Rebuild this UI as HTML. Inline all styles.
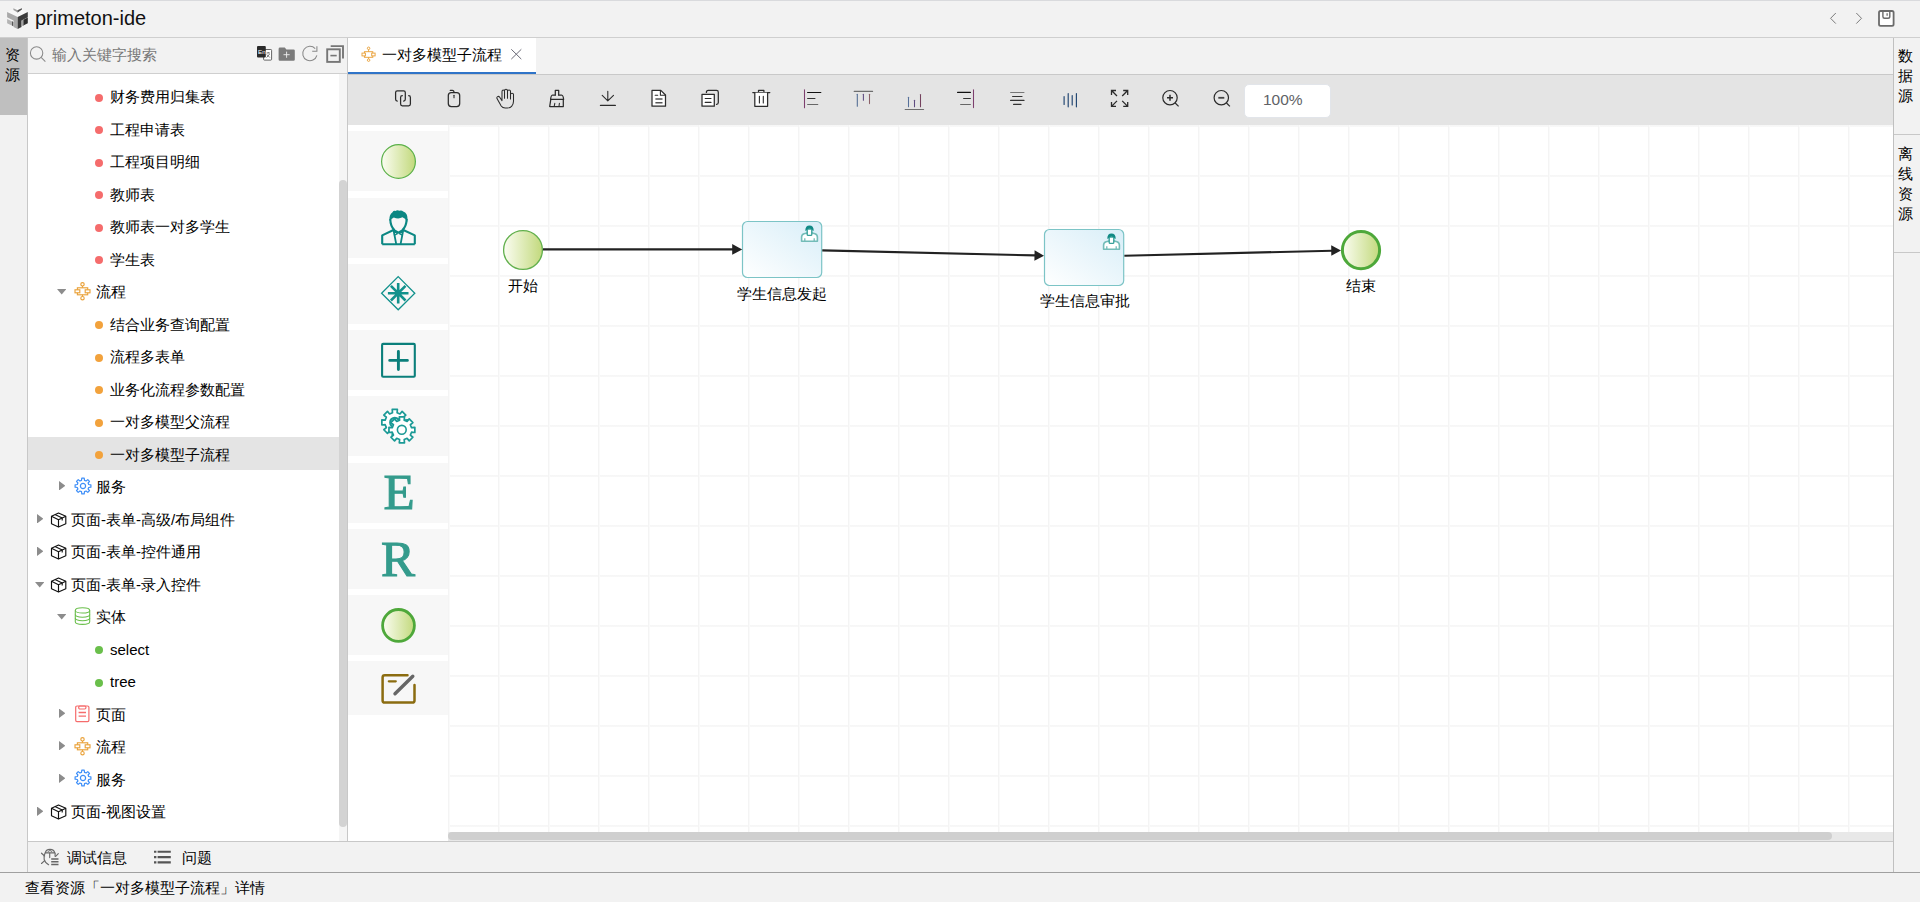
<!DOCTYPE html>
<html><head><meta charset="utf-8"><title>primeton-ide</title>
<style>
*{box-sizing:border-box;margin:0;padding:0}
html,body{width:1920px;height:902px;overflow:hidden;background:#f2f2f2;font-family:"Liberation Sans",sans-serif;color:#000}
.a{position:absolute}
.t{position:absolute;font-size:15px;line-height:20px;white-space:nowrap}
.row{position:absolute;left:28px;width:311px;height:32.5px}
.dot{position:absolute;width:8px;height:8px;border-radius:50%}
.tri-r{position:absolute;width:6.4px;height:9.4px;background:#8c8c8c;clip-path:polygon(0 0,100% 50%,0 100%)}
.tri-d{position:absolute;width:9.4px;height:5.6px;background:#8c8c8c;clip-path:polygon(0 0,100% 0,50% 100%)}
.pal{position:absolute;left:348px;width:100px;background:#f7f7f7}
svg{position:absolute;overflow:visible}
</style></head><body>

<!-- ===== HEADER ===== -->
<div class="a" style="left:0;top:0;width:1920px;height:1px;background:#d9dadd"></div>
<div class="a" style="left:0;top:37px;width:1920px;height:1px;background:#cfcfcf"></div>
<div id="title" class="t" style="left:35px;top:7px;font-size:20px;line-height:22px;color:#111">primeton-ide</div>

<!-- ===== LEFT ACTIVITY BAR ===== -->
<div class="a" style="left:0;top:38px;width:27px;height:77px;background:#bfbfbf"></div>
<div class="a" style="left:27px;top:38px;width:1px;height:834px;background:#c8c8c8"></div>
<div class="t" style="left:5px;top:45px;width:16px;font-size:15px;line-height:20px;white-space:normal">资源</div>

<!-- ===== SIDEBAR ===== -->
<div class="a" style="left:28px;top:38px;width:319px;height:35px;background:#f2f2f2"></div>
<div class="a" style="left:28px;top:73px;width:319px;height:1px;background:#cfcfcf"></div>
<div class="a" style="left:28px;top:74px;width:319px;height:767px;background:#fff"></div>
<div class="a" style="left:347px;top:38px;width:1px;height:803px;background:#c8c8c8"></div>
<div class="t" style="left:52px;top:45px;color:#777">输入关键字搜索</div>

<div class="dot" style="left:95px;top:93.5px;background:#f56c6c"></div>
<div class="t" style="left:110px;top:87.0px">财务费用归集表</div>
<div class="dot" style="left:95px;top:126.0px;background:#f56c6c"></div>
<div class="t" style="left:110px;top:119.5px">工程申请表</div>
<div class="dot" style="left:95px;top:158.5px;background:#f56c6c"></div>
<div class="t" style="left:110px;top:152.0px">工程项目明细</div>
<div class="dot" style="left:95px;top:191.0px;background:#f56c6c"></div>
<div class="t" style="left:110px;top:184.5px">教师表</div>
<div class="dot" style="left:95px;top:223.5px;background:#f56c6c"></div>
<div class="t" style="left:110px;top:217.0px">教师表一对多学生</div>
<div class="dot" style="left:95px;top:256.0px;background:#f56c6c"></div>
<div class="t" style="left:110px;top:249.5px">学生表</div>
<div class="tri-d" style="left:57px;top:289.0px"></div>
<svg style="left:74px;top:274.5px" width="18" height="27" viewBox="0 0 18 27"><g fill="none" stroke="#eaa23a" stroke-width="1.15"><circle cx="8.5" cy="9.3" r="1.7"/><path d="M8.5 11v1.8M8.5 19.8v1.7"/><rect x="3.4" y="12.8" width="10.3" height="7"/><rect x="1" y="14.8" width="4.8" height="3" fill="#fff"/><rect x="11.2" y="14.8" width="4.8" height="3" fill="#fff"/><circle cx="8.5" cy="23.2" r="1.7"/></g></svg>
<div class="t" style="left:96px;top:282.0px">流程</div>
<div class="dot" style="left:95px;top:321.0px;background:#f2a23c"></div>
<div class="t" style="left:110px;top:314.5px">结合业务查询配置</div>
<div class="dot" style="left:95px;top:353.5px;background:#f2a23c"></div>
<div class="t" style="left:110px;top:347.0px">流程多表单</div>
<div class="dot" style="left:95px;top:386.0px;background:#f2a23c"></div>
<div class="t" style="left:110px;top:379.5px">业务化流程参数配置</div>
<div class="dot" style="left:95px;top:418.5px;background:#f2a23c"></div>
<div class="t" style="left:110px;top:412.0px">一对多模型父流程</div>
<div class="a" style="left:28px;top:437.0px;width:311px;height:32.5px;background:#e4e4e4"></div>
<div class="dot" style="left:95px;top:451.0px;background:#f2a23c"></div>
<div class="t" style="left:110px;top:444.5px">一对多模型子流程</div>
<div class="tri-r" style="left:59px;top:481.0px"></div>
<svg style="left:74px;top:476.5px" width="18" height="18" viewBox="-9 -9 18 18"><path fill="none" stroke="#3d8ef8" stroke-width="1.2" stroke-linejoin="round" d="M-1.5,-5.6 L-1.2,-7.9 L1.2,-7.9 L1.5,-5.6 L3.1,-5 L4.8,-6.4 L6.5,-4.7 L5.1,-3 L5.7,-1.5 L7.9,-1.2 L7.9,1.2 L5.7,1.5 L5.1,3 L6.5,4.7 L4.8,6.4 L3.1,5 L1.5,5.6 L1.2,7.9 L-1.2,7.9 L-1.5,5.6 L-3.1,5 L-4.8,6.4 L-6.5,4.7 L-5.1,3 L-5.7,1.5 L-7.9,1.2 L-7.9,-1.2 L-5.7,-1.5 L-5.1,-3 L-6.5,-4.7 L-4.8,-6.4 L-3.1,-5 Z"/><circle r="2.6" fill="none" stroke="#3d8ef8" stroke-width="1.2"/></svg>
<div class="t" style="left:96px;top:477.0px">服务</div>
<div class="tri-r" style="left:37px;top:514.0px"></div>
<svg style="left:50px;top:511.5px" width="17" height="17" viewBox="0 0 17 17"><g fill="none" stroke="#111" stroke-width="1.15" stroke-linejoin="round"><path d="M1.5 4.3L8.5 1L15.8 4.3L15.8 11.8L8.5 15.1L1.5 11.8Z"/><path d="M1.5 4.3L8.5 7.7L15.8 4.3M8.5 7.7V15.1"/><path d="M5 2.6L12.2 6V8.4"/></g></svg>
<div class="t" style="left:71px;top:509.5px">页面-表单-高级/布局组件</div>
<div class="tri-r" style="left:37px;top:546.5px"></div>
<svg style="left:50px;top:544.0px" width="17" height="17" viewBox="0 0 17 17"><g fill="none" stroke="#111" stroke-width="1.15" stroke-linejoin="round"><path d="M1.5 4.3L8.5 1L15.8 4.3L15.8 11.8L8.5 15.1L1.5 11.8Z"/><path d="M1.5 4.3L8.5 7.7L15.8 4.3M8.5 7.7V15.1"/><path d="M5 2.6L12.2 6V8.4"/></g></svg>
<div class="t" style="left:71px;top:542.0px">页面-表单-控件通用</div>
<div class="tri-d" style="left:35px;top:582.0px"></div>
<svg style="left:50px;top:576.5px" width="17" height="17" viewBox="0 0 17 17"><g fill="none" stroke="#111" stroke-width="1.15" stroke-linejoin="round"><path d="M1.5 4.3L8.5 1L15.8 4.3L15.8 11.8L8.5 15.1L1.5 11.8Z"/><path d="M1.5 4.3L8.5 7.7L15.8 4.3M8.5 7.7V15.1"/><path d="M5 2.6L12.2 6V8.4"/></g></svg>
<div class="t" style="left:71px;top:574.5px">页面-表单-录入控件</div>
<div class="tri-d" style="left:57px;top:614.0px"></div>
<svg style="left:74px;top:606.5px" width="17" height="19" viewBox="0 0 17 19"><g fill="none" stroke="#6abf4b" stroke-width="1.1"><ellipse cx="8.5" cy="3.4" rx="7.2" ry="2.6"/><path d="M1.3 3.4V14.8C1.3 16.3 4.5 17.4 8.5 17.4S15.7 16.3 15.7 14.8V3.4"/><path d="M1.3 7.6C1.3 9.1 4.5 10.2 8.5 10.2S15.7 9.1 15.7 7.6"/><path d="M1.3 11.1C1.3 12.6 4.5 13.7 8.5 13.7S15.7 12.6 15.7 11.1"/></g></svg>
<div class="t" style="left:96px;top:607.0px">实体</div>
<div class="dot" style="left:95px;top:646.0px;background:#6abf4b"></div>
<div class="t" style="left:110px;top:639.5px">select</div>
<div class="dot" style="left:95px;top:678.5px;background:#6abf4b"></div>
<div class="t" style="left:110px;top:672.0px">tree</div>
<div class="tri-r" style="left:59px;top:708.5px"></div>
<svg style="left:74px;top:704.5px" width="17" height="19" viewBox="0 0 17 19"><g fill="none" stroke="#f56c6c" stroke-width="1.2"><rect x="1.7" y="1" width="13.2" height="15.6" rx="1.3"/><rect x="4.7" y="1" width="7.2" height="3" rx="1.2"/><path d="M4.6 7.5h7.4M4.6 11.1h7.4" stroke-width="1.3"/></g></svg>
<div class="t" style="left:96px;top:704.5px">页面</div>
<div class="tri-r" style="left:59px;top:741.0px"></div>
<svg style="left:74px;top:729.5px" width="18" height="27" viewBox="0 0 18 27"><g fill="none" stroke="#eaa23a" stroke-width="1.15"><circle cx="8.5" cy="9.3" r="1.7"/><path d="M8.5 11v1.8M8.5 19.8v1.7"/><rect x="3.4" y="12.8" width="10.3" height="7"/><rect x="1" y="14.8" width="4.8" height="3" fill="#fff"/><rect x="11.2" y="14.8" width="4.8" height="3" fill="#fff"/><circle cx="8.5" cy="23.2" r="1.7"/></g></svg>
<div class="t" style="left:96px;top:737.0px">流程</div>
<div class="tri-r" style="left:59px;top:773.5px"></div>
<svg style="left:74px;top:769.0px" width="18" height="18" viewBox="-9 -9 18 18"><path fill="none" stroke="#3d8ef8" stroke-width="1.2" stroke-linejoin="round" d="M-1.5,-5.6 L-1.2,-7.9 L1.2,-7.9 L1.5,-5.6 L3.1,-5 L4.8,-6.4 L6.5,-4.7 L5.1,-3 L5.7,-1.5 L7.9,-1.2 L7.9,1.2 L5.7,1.5 L5.1,3 L6.5,4.7 L4.8,6.4 L3.1,5 L1.5,5.6 L1.2,7.9 L-1.2,7.9 L-1.5,5.6 L-3.1,5 L-4.8,6.4 L-6.5,4.7 L-5.1,3 L-5.7,1.5 L-7.9,1.2 L-7.9,-1.2 L-5.7,-1.5 L-5.1,-3 L-6.5,-4.7 L-4.8,-6.4 L-3.1,-5 Z"/><circle r="2.6" fill="none" stroke="#3d8ef8" stroke-width="1.2"/></svg>
<div class="t" style="left:96px;top:769.5px">服务</div>
<div class="tri-r" style="left:37px;top:806.5px"></div>
<svg style="left:50px;top:804.0px" width="17" height="17" viewBox="0 0 17 17"><g fill="none" stroke="#111" stroke-width="1.15" stroke-linejoin="round"><path d="M1.5 4.3L8.5 1L15.8 4.3L15.8 11.8L8.5 15.1L1.5 11.8Z"/><path d="M1.5 4.3L8.5 7.7L15.8 4.3M8.5 7.7V15.1"/><path d="M5 2.6L12.2 6V8.4"/></g></svg>
<div class="t" style="left:71px;top:802.0px">页面-视图设置</div>

<div class="a" style="left:339px;top:74px;width:8px;height:767px;background:#f5f5f5"></div>
<div class="a" style="left:339px;top:180px;width:8px;height:647px;border-radius:4px;background:#d3d3d3"></div>

<!-- ===== EDITOR AREA ===== -->
<div class="a" style="left:348px;top:38px;width:188px;height:36px;background:#fff"></div>
<div class="a" style="left:348px;top:72px;width:188px;height:2px;background:#2f74c8"></div>
<div class="a" style="left:348px;top:74px;width:1545px;height:1px;background:#c9c9c9"></div>
<div class="a" style="left:348px;top:75px;width:1545px;height:50px;background:#e4e4e4"></div>
<div class="t" style="left:382px;top:45px">一对多模型子流程</div>
<div class="a" style="left:1243.5px;top:83.5px;width:87px;height:34px;background:#fff;border:1px solid #e2e5ea;border-radius:5px"></div>
<div class="t" style="left:1263px;top:90px;font-size:15.5px;color:#606266">100%</div>

<!-- canvas -->
<div id="canvas" class="a" style="left:348px;top:125px;width:1545px;height:716px;background:#fff"></div>
<div class="a" style="left:448px;top:125px;width:1445px;height:707px;background-color:#fff;background-image:linear-gradient(to right,#f4f4f4 0,#f4f4f4 1px,#fafafa 1px,#fafafa 2px,transparent 2px),linear-gradient(to bottom,#f6f6f6 0,#f8f8f8 2px,transparent 2px);background-size:50px 50px"></div>
<div class="a" style="left:348px;top:125px;width:100px;height:590px;background:#fff;overflow:hidden">
<div class="a" style="left:0;top:6.25px;width:100px;height:60px;background:#f7f7f7"></div>
<div class="a" style="left:0;top:72.5px;width:100px;height:60px;background:#f7f7f7"></div>
<div class="a" style="left:0;top:138.75px;width:100px;height:60px;background:#f7f7f7"></div>
<div class="a" style="left:0;top:205.0px;width:100px;height:60px;background:#f7f7f7"></div>
<div class="a" style="left:0;top:271.25px;width:100px;height:60px;background:#f7f7f7"></div>
<div class="a" style="left:0;top:337.5px;width:100px;height:60px;background:#f7f7f7"></div>
<div class="a" style="left:0;top:403.75px;width:100px;height:60px;background:#f7f7f7"></div>
<div class="a" style="left:0;top:470.0px;width:100px;height:60px;background:#f7f7f7"></div>
<div class="a" style="left:0;top:536.25px;width:100px;height:60px;background:#f7f7f7"></div>
</div>
<div class="a" style="left:349px;top:463.5px;width:100px;text-align:center;font-family:'Liberation Serif',serif;font-weight:normal;-webkit-text-stroke:1.1px #349b8c;font-size:51px;line-height:56px;color:#349b8c">E</div>
<div class="a" style="left:348px;top:530.5px;width:100px;text-align:center;font-family:'Liberation Serif',serif;font-weight:normal;-webkit-text-stroke:1.1px #349b8c;font-size:51px;line-height:56px;color:#349b8c">R</div>
<svg style="left:0;top:0;pointer-events:none" width="1920" height="902" viewBox="0 0 1920 902">
<defs>
<linearGradient id="pEv" x1="0" y1="0" x2="1" y2="0"><stop offset="0" stop-color="#fbfdf2"/><stop offset="1" stop-color="#c2d97c"/></linearGradient>
<linearGradient id="pTask" x1="0" y1="1" x2="1" y2="0"><stop offset="0" stop-color="#ffffff"/><stop offset="1" stop-color="#d8eef8"/></linearGradient>
</defs>
<circle cx="398.5" cy="161.5" r="16.9" fill="url(#pEv)" stroke="#5cb14a" stroke-width="1.2"/>
<g fill="none" stroke="#0b8783" stroke-width="2.1" stroke-linejoin="round">
<path d="M382.2,244.2 V235.4 L393.5,230 M403.3,230 L414.8,235.4 V244.2"/>
<path d="M382.2,244.2 H414.8"/>
<path d="M393.5,229.8 L396.2,244 M403.3,229.8 L400.6,244" stroke-width="1.8"/>
<path d="M390.3,219 Q390.3,226 394.5,230.3 L398.4,232.6 L402.3,230.3 Q406.6,226 406.6,219"/>
<path d="M394.4,231 L397.4,233.8 L394.5,235.2 Z M402.4,231 L399.4,233.8 L402.3,235.2 Z" stroke-width="1.2"/>
</g>
<path d="M389.5,221 Q388.8,214.6 392.5,212.2 Q393.5,210.4 395.5,210.9 Q397.4,209.6 399.4,210.8 Q401.6,209.9 403.2,211.6 Q407.7,213 407.6,219.5 L407.2,222 Q405.8,218.6 402.5,217.3 Q398.4,219.5 393.8,217.4 Q391.4,218.4 389.5,221 Z" fill="#0b8783"/>
<g fill="none" stroke="#11918c">
<path d="M398.2,276.6 L414.8,293.2 L398.2,309.8 L381.6,293.2 Z" stroke-width="1.3"/>
<path d="M398.2,282.9 V303.5 M387.9,293.2 H408.5 M390.9,285.9 L405.5,300.5 M405.5,285.9 L390.9,300.5" stroke-width="2.6"/>
</g>
<rect x="382.1" y="343.9" width="32.7" height="32.9" rx="1" fill="none" stroke="#0b7f7b" stroke-width="2.1"/>
<path d="M389.7,360.4 H407.4 M398.4,351.5 V369.5" stroke="#0b7f7b" stroke-width="2.9" stroke-linecap="round"/>
<path d="M392.49,412.77 L392.22,409.45 L397.38,409.45 L397.11,412.77 L399.97,413.96 L402.13,411.42 L405.78,415.07 L403.24,417.23 L404.43,420.09 L407.75,419.82 L407.75,424.98 L404.43,424.71 L403.24,427.57 L405.78,429.73 L402.13,433.38 L399.97,430.84 L397.11,432.03 L397.38,435.35 L392.22,435.35 L392.49,432.03 L389.63,430.84 L387.47,433.38 L383.82,429.73 L386.36,427.57 L385.17,424.71 L381.85,424.98 L381.85,419.82 L385.17,420.09 L386.36,417.23 L383.82,415.07 L387.47,411.42 L389.63,413.96 Z" fill="#fff" stroke="#1b9a96" stroke-width="1.7" stroke-linejoin="round"/>
<circle cx="394.8" cy="422.4" r="4.6" fill="none" stroke="#1b9a96" stroke-width="2.2"/>
<path d="M399.59,420.27 L399.32,416.95 L404.48,416.95 L404.21,420.27 L407.07,421.46 L409.23,418.92 L412.88,422.57 L410.34,424.73 L411.53,427.59 L414.85,427.32 L414.85,432.48 L411.53,432.21 L410.34,435.07 L412.88,437.23 L409.23,440.88 L407.07,438.34 L404.21,439.53 L404.48,442.85 L399.32,442.85 L399.59,439.53 L396.73,438.34 L394.57,440.88 L390.92,437.23 L393.46,435.07 L392.27,432.21 L388.95,432.48 L388.95,427.32 L392.27,427.59 L393.46,424.73 L390.92,422.57 L394.57,418.92 L396.73,421.46 Z" fill="#fff" stroke="#1b9a96" stroke-width="1.7" stroke-linejoin="round"/>
<circle cx="401.8" cy="429.8" r="4.4" fill="none" stroke="#1b9a96" stroke-width="1.6"/>
<circle cx="398.5" cy="625.4" r="15.9" fill="url(#pEv)" stroke="#4ea83a" stroke-width="2.8"/>
<path d="M407.5,675.2 H384.8 Q382.6,675.2 382.6,677.4 V700.4 Q382.6,702.6 384.8,702.6 H412.3 Q414.5,702.6 414.5,700.4 V685" fill="none" stroke="#8b6c10" stroke-width="2.5" stroke-linecap="round"/>
<path d="M388.8,681.3 H395.8" stroke="#8b6c10" stroke-width="2.2" stroke-linecap="round"/>
<path d="M395,693.8 L412.8,676.3" stroke="#666" stroke-width="3.4" stroke-linecap="round"/>
<circle cx="523" cy="250" r="19.4" fill="url(#pEv)" stroke="#62b04d" stroke-width="1.3"/>
<circle cx="1361" cy="250.1" r="18.6" fill="url(#pEv)" stroke="#4da83a" stroke-width="3"/>
<rect x="742.5" y="221.5" width="79.2" height="56" rx="5" fill="url(#pTask)" stroke="#7cc4c6" stroke-width="1.2"/>
<g transform="translate(800.6,225.0)">
<path d="M1,16.2 V12 Q1,9.5 3.5,8.7 L6.5,7.9 H11.7 L14.3,8.7 Q16.8,9.5 16.8,12 V16.2 Z" fill="#fff" stroke="#73bcb8" stroke-width="1.6" stroke-linejoin="round"/>
<path d="M4.2,13.2 V16.2 M13.6,13.2 V16.2" stroke="#73bcb8" stroke-width="1.3"/>
<rect x="6.6" y="4" width="4.6" height="6.4" rx="1" fill="#fff" stroke="#3aa29c" stroke-width="1.4"/>
<path d="M4.7,5.6 Q4.7,0.4 8.9,0.4 Q13.1,0.4 13.1,5.6 L12.4,6.1 Q11.8,3.6 8.9,3.6 Q6,3.6 5.4,6.1 Z" fill="#118a85"/>
</g>
<rect x="1044.5" y="229.5" width="79.2" height="56" rx="5" fill="url(#pTask)" stroke="#7cc4c6" stroke-width="1.2"/>
<g transform="translate(1102.6,233.0)">
<path d="M1,16.2 V12 Q1,9.5 3.5,8.7 L6.5,7.9 H11.7 L14.3,8.7 Q16.8,9.5 16.8,12 V16.2 Z" fill="#fff" stroke="#73bcb8" stroke-width="1.6" stroke-linejoin="round"/>
<path d="M4.2,13.2 V16.2 M13.6,13.2 V16.2" stroke="#73bcb8" stroke-width="1.3"/>
<rect x="6.6" y="4" width="4.6" height="6.4" rx="1" fill="#fff" stroke="#3aa29c" stroke-width="1.4"/>
<path d="M4.7,5.6 Q4.7,0.4 8.9,0.4 Q13.1,0.4 13.1,5.6 L12.4,6.1 Q11.8,3.6 8.9,3.6 Q6,3.6 5.4,6.1 Z" fill="#118a85"/>
</g>
<g stroke="#222" stroke-width="2.1" fill="none">
<path d="M543,249.4 H733"/>
<path d="M822.3,250.4 L1035,255.4"/>
<path d="M1124.4,255.8 L1332,250.7"/>
</g>
<g fill="#222">
<polygon points="732.2,244 742.2,249.4 732.2,254.8"/>
<polygon points="1034.6,250.2 1044,255.7 1034.4,260.8"/>
<polygon points="1331.2,245.3 1341,250.4 1331.3,255.8"/>
</g>
</svg>
<div class="t" style="left:508.3px;top:276.0px">开始</div>
<div class="t" style="left:737.0px;top:284.0px">学生信息发起</div>
<div class="t" style="left:1040.0px;top:291.4px">学生信息审批</div>
<div class="t" style="left:1346.0px;top:276.4px">结束</div>


<!-- h scrollbar -->
<div class="a" style="left:448px;top:832px;width:1445px;height:9px;background:#e8e8e8"></div>
<div class="a" style="left:448px;top:832px;width:1384px;height:8px;border-radius:4px;background:#cfcfcf"></div>
<div class="a" style="left:28px;top:841px;width:1865px;height:1px;background:#c8c8c8"></div>
<div class="a" style="left:1893px;top:38px;width:1px;height:834px;background:#c0c0c0"></div>

<!-- ===== RIGHT BAR ===== -->
<div class="a" style="left:1894px;top:134px;width:26px;height:1px;background:#c8c8c8"></div>
<div class="a" style="left:1894px;top:252px;width:26px;height:1px;background:#c8c8c8"></div>
<div class="t" style="left:1898px;top:46px;width:16px;white-space:normal">数据源</div>
<div class="t" style="left:1898px;top:144px;width:16px;white-space:normal">离线资源</div>

<!-- ===== BOTTOM ===== -->
<div class="a" style="left:0;top:872px;width:1920px;height:1px;background:#a0a0a0"></div>
<div class="t" style="left:67px;top:848px">调试信息</div>
<div class="t" style="left:182px;top:848px">问题</div>
<div class="t" style="left:25px;top:878px">查看资源「一对多模型子流程」详情</div>

<svg style="left:0;top:0;pointer-events:none" width="1920" height="902" viewBox="0 0 1920 902">
<defs>
<linearGradient id="gEv" x1="0" y1="0" x2="1" y2="0"><stop offset="0" stop-color="#fbfdf2"/><stop offset="1" stop-color="#c4da80"/></linearGradient>
<linearGradient id="gTask" x1="0" y1="1" x2="1" y2="0"><stop offset="0" stop-color="#ffffff"/><stop offset="1" stop-color="#d9eef8"/></linearGradient>
</defs>
<g>
<polygon points="7.1,12.1 17.5,6.9 27.8,12.1 17.7,17.1" fill="#f7f7f7"/>
<polygon points="7.1,12.1 17.7,17.1 17.7,28.9 13.6,26.9 13.6,20.4 7.1,17.3" fill="#a9a9a9"/>
<polygon points="7.1,19 12.8,21.7 12.8,26 7.1,23.3" fill="#b4b4b4"/>
<polygon points="12,21.3 13.3,22 13.3,26.2 12,25.6" fill="#555"/>
<polygon points="17.7,17.1 27.8,12.1 27.8,17.3 21.5,20.4 21.5,27 17.7,28.9" fill="#3b3b3b"/>
<polygon points="22.8,20 27.8,17.6 27.8,23.2 22.8,25.7" fill="#2b2b2b"/>
<polygon points="22.2,20.3 23.6,19.6 23.6,25.3 22.2,26" fill="#9a9a9a"/>
<polygon points="13.4,8.2 17.6,10.3 21.8,8.2 21.8,9.6 17.6,12.4 13.4,10.1" fill="#a0a0a0"/>
<polygon points="17.6,10.3 21.8,8.2 21.8,9.6 17.6,12.4" fill="#555"/>
</g>
<g fill="none" stroke="#7a7a7a" stroke-width="1">
<path d="M1835.8,13 L1830.6,18.3 L1835.8,23.6"/>
<path d="M1856.3,13 L1861.5,18.3 L1856.3,23.6"/>
</g>
<g fill="none" stroke="#6b6b6b" stroke-width="1.8">
<rect x="1879" y="11" width="14.6" height="14.8" rx="1.6" fill="#fff"/>
<path d="M1882.9,11 V16.5 Q1882.9,18.3 1884.6,18.3 H1888 Q1889.8,18.3 1889.8,16.5 V11" stroke-width="1.4"/>
<path d="M1887.1,13.2 V15.8" stroke-width="1.1" stroke="#555"/>
</g>
<g fill="none" stroke="#8a8a8a" stroke-width="1.05">
<circle cx="36.6" cy="52.9" r="6.2"/><path d="M41.1,57.4 L45.4,61.6"/>
</g>
<rect x="263.6" y="49.5" width="8" height="10.6" rx="0.8" fill="#fff" stroke="#555" stroke-width="0.9"/>
<rect x="257" y="46" width="8.8" height="11.5" rx="1" fill="#2a2a2a"/>
<text x="258" y="54" font-size="6.2" fill="#fff" font-family="Liberation Sans">En</text>
<path d="M266.5,53 h3.5 M268.2,52 v1 M266.8,54.5 l3,3 M269.6,54 l-3,3.6" stroke="#444" stroke-width="0.7" fill="none"/>
<path d="M278.6,49 Q278.6,47.6 280,47.6 H284.8 L286.4,49.4 H293.6 Q294.8,49.4 294.8,50.6 V59.6 Q294.8,60.8 293.6,60.8 H279.8 Q278.6,60.8 278.6,59.6 Z" fill="#7b7b7b"/>
<path d="M286.6,51.6 V57.8 M283.5,54.7 H289.7" stroke="#f0f0f0" stroke-width="0.9"/>
<path d="M316.9,55.4 A7.2,7.2 0 1 1 315.2,48.6" fill="none" stroke="#888" stroke-width="1.05"/>
<path d="M316.9,46.3 V51.2 H312.2" fill="none" stroke="#888" stroke-width="1.05"/>
<g fill="none" stroke="#767676" stroke-width="1.9">
<rect x="327.2" y="49.3" width="12.6" height="12.6"/>
<path d="M330.7,46.1 H343 V58.6"/>
<path d="M330.4,55.6 H336.7" stroke-width="1.6"/>
</g>
<g fill="none" stroke="#e9a23b" stroke-width="0.95">
<circle cx="368.6" cy="48.3" r="1.25"/><path d="M368.6,49.55 V51.7 M368.6,57.3 V58.9"/>
<rect x="364.4" y="51.7" width="8.4" height="5.6"/>
<rect x="362" y="53.1" width="3.4" height="2.8" fill="#fff"/><rect x="371.7" y="53.1" width="3.4" height="2.8" fill="#fff"/>
<circle cx="368.6" cy="60.15" r="1.25"/>
</g>
<path d="M511.3,49.3 L521.3,59.1 M521.3,49.3 L511.3,59.1" stroke="#6b6b78" stroke-width="1" fill="none"/>
<g fill="none" stroke="#2b2b2b" stroke-width="1.25" stroke-linecap="round" stroke-linejoin="round">
<path d="M397.3,101 Q395.6,101 395.6,99.3 V92.6 Q395.6,90.9 397.3,90.9 H403.6 Q405.3,90.9 405.3,92.6 V99.3 Q405.3,101 403.6,101"/>
<path d="M402.3,95.7 Q400.6,95.7 400.6,97.4 V104.1 Q400.6,105.8 402.3,105.8 H408.7 Q410.4,105.8 410.4,104.1 V97.4 Q410.4,95.7 408.7,95.7"/>
<rect x="448.3" y="92.6" width="11.4" height="14" rx="3"/>
<path d="M450.3,90.4 H452.3 Q454,90.4 454,92.4"/><path d="M454,95.2 V97.8" stroke-width="1.1"/>
<path d="M502,99.8 V91.4 Q502,89.9 503.3,89.9 Q504.5,89.9 504.5,91.4 V98.2 M504.5,91 Q504.5,89.2 506,89.2 Q507.5,89.2 507.5,91 V98.2 M507.5,91.3 Q507.5,89.9 509,89.9 Q510.5,89.9 510.5,91.3 V99 M510.5,94.6 Q510.5,93.2 512,93.2 Q513.5,93.2 513.5,94.6 V101.2 Q513.5,104.2 511.6,106.4 Q510.2,108 507.4,108 H505.2 Q502.6,108 501.2,106 L497,98.6 Q496.5,97.2 497.6,96.6 Q498.8,96 499.7,97.3 L502,100.6" stroke-width="1.05"/>
<path d="M555.3,95 V90.3 H558.7 V95"/>
<path d="M555.3,95 H552.6 Q550.9,95.3 550.6,99.4 H563.6 Q563.3,95.3 561.5,95 H558.7"/>
<path d="M550.8,99.4 L549.7,106.5 H563.3 V99.4"/><path d="M554.2,106.3 L554.8,103.3 M559,106.3 L559.4,103.3" stroke-width="1.05"/>
<path d="M607.8,91.2 V100.6 M602.2,95.3 L607.8,100.9 L613.5,95.3" stroke-width="1.1"/><path d="M600.5,105.4 H615.3" stroke-width="1.35"/>
<path d="M652,90.4 H660.8 L665.5,95 V106.2 H652 Z" fill="#fff"/><path d="M660.4,90.6 V95.3 H665.3" stroke-width="1.1"/>
<path d="M655.2,95.3 H657.7" stroke-width="1.1"/><path d="M655.4,99.1 H662.5 M655.4,102.8 H662.5" stroke="#555" stroke-width="1.5" stroke-linecap="butt"/>
<path d="M706.4,92.4 Q706.4,90.4 708.2,90.4 H716.5 Q718.3,90.4 718.3,92.2 V102.6 Q718.3,104.4 716.5,104.4"/>
<rect x="702" y="94.3" width="12.3" height="11.9" fill="#fff"/>
<path d="M705.2,98.5 H711 M705.2,102.4 H711" stroke-width="1.15"/>
<path d="M752.8,92.5 H769.8"/><path d="M758.5,92.3 V90.4 H763.9 V92.3"/><path d="M754.8,92.7 V106.3 H767.6 V92.7" fill="#fff"/>
<path d="M759.4,96.3 V102.9 M763.3,96.3 V102.9" stroke-width="1.1"/>
</g>
<g fill="none" stroke-width="1.05" stroke-linecap="round">
<path d="M804.5,89.8 V107.7" stroke="#7d3f6e"/><path d="M807.6,92.5 H820.8" stroke="#111" stroke-width="1.2"/><path d="M807.6,98.5 H815" stroke="#333"/><path d="M807.6,104.4 H817.8" stroke="#666"/>
<path d="M854.2,91.4 H872.6" stroke="#6e6e6e" stroke-width="1.1"/><path d="M857.3,94.3 V106.3" stroke="#4f6a92"/><path d="M863.4,94.3 V100.3" stroke="#5e4a80"/><path d="M869.5,94.3 V103.6" stroke="#8a6068"/>
<path d="M905.2,109.5 H923.6" stroke="#6e6e6e" stroke-width="1.1"/><path d="M908.5,97.2 V106.8" stroke="#56709a"/><path d="M914.5,100.3 V106.8" stroke="#5e4a80"/><path d="M920.5,94.6 V106.8" stroke="#74425e"/>
<path d="M973.5,89.8 V107.6" stroke="#7d3f6e"/><path d="M957.6,92.4 H970.4" stroke="#111" stroke-width="1.2"/><path d="M963.6,98.4 H970.4" stroke="#333"/><path d="M960.6,104.4 H970.4" stroke="#666"/>
<path d="M1010.6,92.4 H1024" stroke="#777"/><path d="M1012.6,96.5 H1022" stroke="#333" stroke-width="1.2"/><path d="M1010.6,100.4 H1024" stroke="#333" stroke-width="1.2"/><path d="M1013.6,104.4 H1021" stroke="#333" stroke-width="1.2"/>
<path d="M1064.1,96.6 V104.4 M1068.2,93.6 V106.8 M1072.2,95.6 V104.9 M1076.4,93.6 V106.8" stroke="#1f4470" stroke-width="1.15"/>
</g>
<g fill="none" stroke="#2b2b2b" stroke-width="1.3">
<path d="M1111.5,95 V90.5 H1116 M1111.8,90.8 L1117,96"/>
<path d="M1127.7,95 V90.5 H1123.2 M1127.4,90.8 L1122.2,96"/>
<path d="M1111.5,102 V106.4 H1116 M1111.8,106.1 L1117,100.9"/>
<path d="M1127.7,102 V106.4 H1123.2 M1127.4,106.1 L1122.2,100.9"/>
</g>
<g fill="none" stroke="#2b2b2b" stroke-width="1.2">
<circle cx="1170" cy="97.7" r="7.2"/><path d="M1175.2,103 L1178.6,106.4"/><path d="M1167,97.7 H1173 M1170,94.7 V100.7" stroke-width="1.5"/>
<circle cx="1221.3" cy="97.7" r="7.2"/><path d="M1226.5,103 L1229.9,106.4"/><path d="M1218.3,97.8 H1224.3" stroke-width="1.8" stroke="#444"/>
</g>
<g fill="none" stroke="#6a6a6a" stroke-width="1.15" stroke-linecap="round">
<path d="M45.3,852.8 Q45.9,849.5 50,849.4 Q54.1,849.5 54.7,852.8 Z"/><path d="M47.9,851.8 Q48.6,850.6 50,850.6 Q51.4,850.6 52,851.8" stroke-width="0.9"/>
<path d="M45,853.2 C43.1,857 43.5,862.2 48.6,864.7 M49.7,853 V857.6 M55.1,853 V856.3"/>
<path d="M41.5,853.2 L44.6,856 M41.5,863.5 L44.4,860.9 M55.6,856.4 L58.3,853.6"/>
<path d="M51.2,859 H58.5 M51.2,861.8 H58.5 M51.2,864.6 H58.5" stroke-width="1.5" stroke-linecap="butt" stroke="#666"/>
</g>
<g stroke="#555" stroke-width="2.1">
<path d="M154,851.8 H156.4 M157.6,851.8 H170.8 M154,857.1 H156.4 M157.6,857.1 H170.8 M154,862.4 H156.4 M157.6,862.4 H170.8"/>
</g>
</svg>

</body></html>
